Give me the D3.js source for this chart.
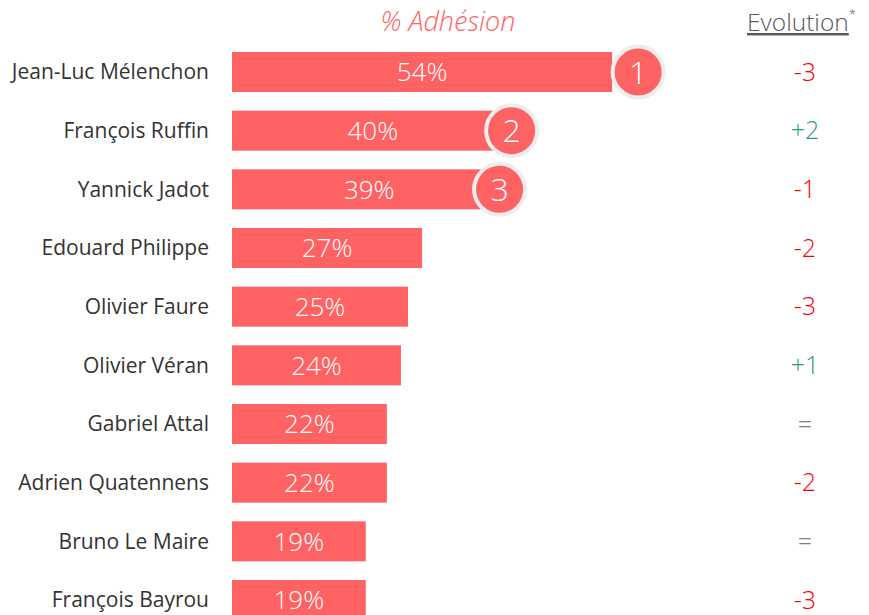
<!DOCTYPE html>
<html>
<head>
<meta charset="utf-8">
<script src="https://cdn.jsdelivr.net/npm/d3@7"></script>
<style>
  html, body { margin: 0; padding: 0; background: #fff; }
  svg text { font-family: "Open Sans", "Noto Sans", sans-serif; }
</style>
</head>
<body>
<svg id="chart" width="869" height="615"></svg>
<script>
const names = ["Jean-Luc Mélenchon", "François Ruffin", "Yannick Jadot", "Edouard Philippe",
  "Olivier Faure", "Olivier Véran", "Gabriel Attal", "Adrien Quatennens", "Bruno Le Maire", "François Bayrou"];
const adhesion = [54, 40, 39, 27, 25, 24, 22, 22, 19, 19];
const evolution = ["-3", "+2", "-1", "-2", "-3", "+1", "=", "-2", "=", "-3"];
const ranks = [1, 2, 3];

const RED = "#ff6262";
const svg = d3.select("#chart");

// 7.04px per point, bars start at 232
const x = d3.scaleLinear().domain([0, 100]).range([232, 936]);
const y = d3.scaleBand().domain(names).range([52, 620]).paddingInner(0.318).paddingOuter(0);
const mid = (n) => y(n) + y.bandwidth() / 2;

const rows = names.map((n, i) => ({ name: n, value: adhesion[i], evo: evolution[i] }));

// headers
svg.append("text")
  .attr("x", 448).attr("y", 31)
  .attr("text-anchor", "middle")
  .attr("font-size", 27).attr("font-style", "italic").attr("font-weight", 300)
  .attr("fill", RED)
  .text("% Adhésion");

const evoHead = svg.append("text")
  .attr("x", 747).attr("y", 31)
  .attr("font-size", 24.5).attr("font-weight", 300)
  .attr("fill", "#595959");
evoHead.append("tspan").attr("text-decoration", "underline").text("Evolution");
evoHead.append("tspan").attr("font-size", 13).attr("dy", -12).text("*");

// names
svg.append("g").selectAll("text")
  .data(rows)
  .join("text")
  .attr("x", 209)
  .attr("y", d => mid(d.name))
  .attr("dy", "0.35em")
  .attr("text-anchor", "end")
  .attr("font-size", 21)
  .attr("fill", "#333")
  .text(d => d.name);

// bars
svg.append("g").selectAll("rect")
  .data(rows)
  .join("rect")
  .attr("x", x(0))
  .attr("y", d => y(d.name))
  .attr("width", d => x(d.value) - x(0))
  .attr("height", y.bandwidth())
  .attr("fill", RED);

svg.append("g").selectAll("text")
  .data(rows)
  .join("text")
  .attr("x", d => (x(0) + x(d.value)) / 2)
  .attr("y", d => mid(d.name))
  .attr("dy", "0.36em")
  .attr("text-anchor", "middle")
  .attr("font-size", 26).attr("font-weight", 300)
  .attr("fill", "#fff")
  .text(d => d.value + "%");

// rank badges
const badgeNudge = [26, -2, -7];
const badges = svg.append("g").selectAll("g")
  .data(ranks)
  .join("g")
  .attr("transform", (r, i) => `translate(${x(adhesion[i]) + badgeNudge[i]},${mid(names[i])})`);
badges.append("circle")
  .attr("r", 25.5)
  .attr("fill", RED)
  .attr("stroke", "#ededed")
  .attr("stroke-width", 4);
badges.append("text")
  .attr("dy", "0.36em")
  .attr("text-anchor", "middle")
  .attr("font-size", 32).attr("font-weight", 300)
  .attr("fill", "#fff")
  .text(r => r);

// evolution
const evoColor = (s) => s.startsWith("+") ? "#2c9a6c" : s.startsWith("-") ? "#ff0000" : "#808080";
svg.append("g").selectAll("text")
  .data(rows)
  .join("text")
  .attr("x", 805)
  .attr("y", d => mid(d.name))
  .attr("dy", "0.35em")
  .attr("text-anchor", "middle")
  .attr("font-size", 25).attr("font-weight", 300)
  .attr("fill", d => evoColor(d.evo))
  .text(d => d.evo);
</script>
</body>
</html>
